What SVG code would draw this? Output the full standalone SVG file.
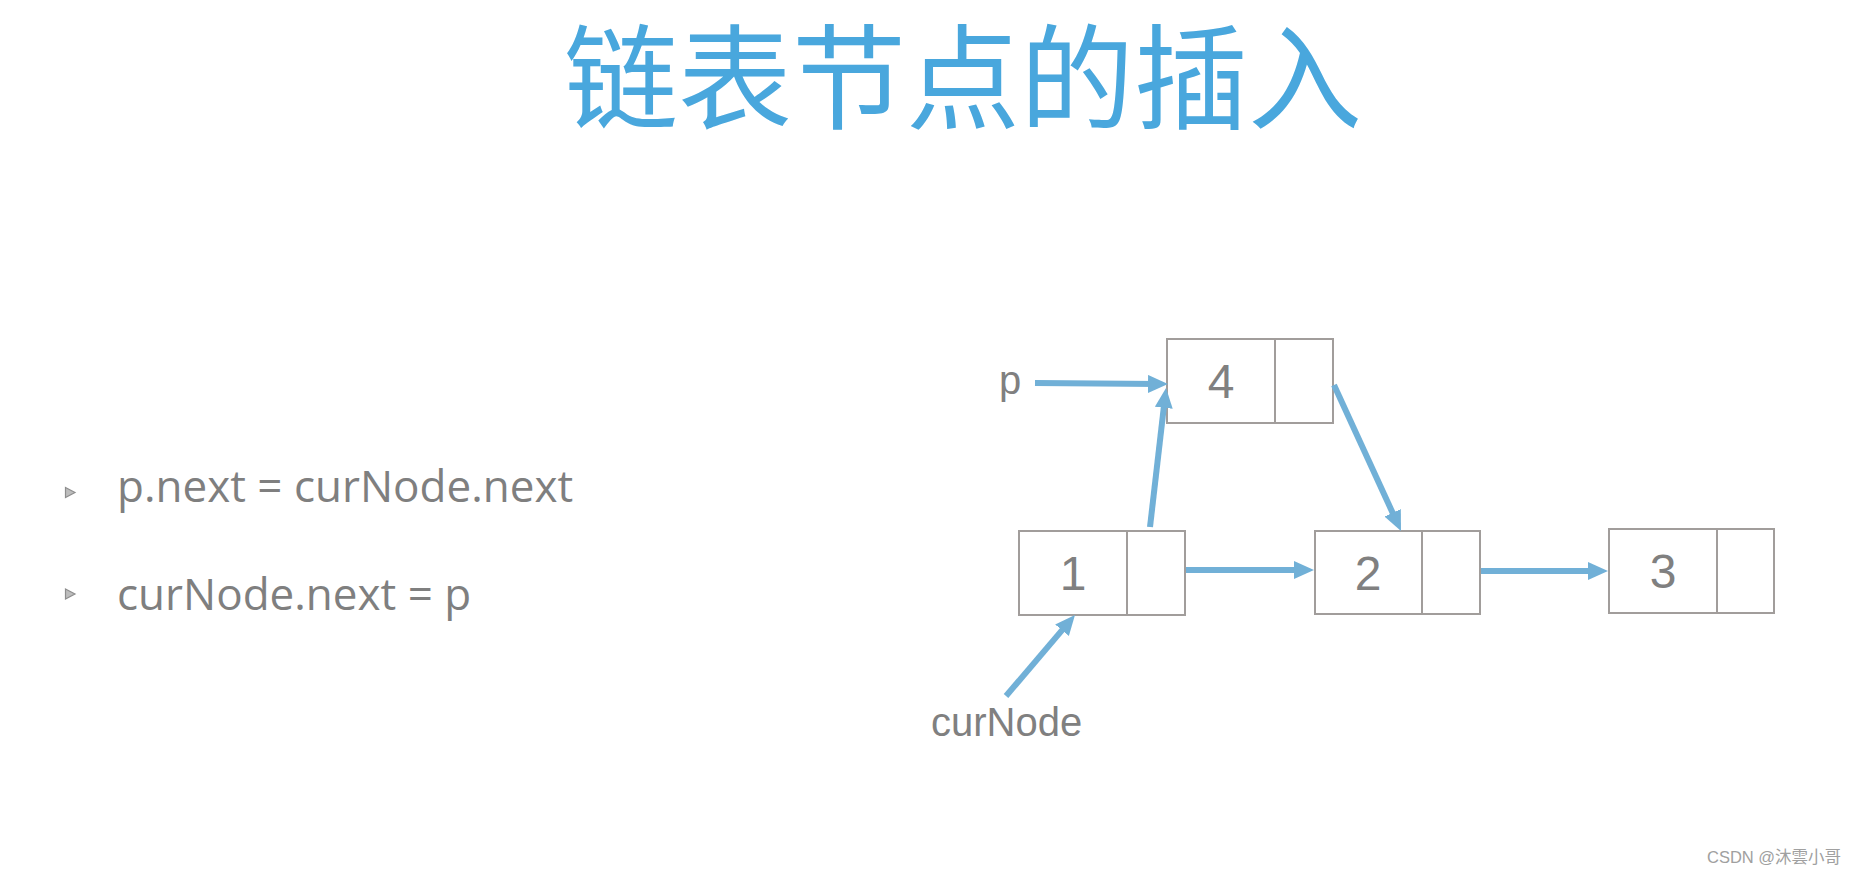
<svg xmlns="http://www.w3.org/2000/svg" width="1859" height="874" viewBox="0 0 1859 874">
<style>
.title{font-family:"Noto Sans CJK SC","Noto Sans CJK JP",sans-serif;font-size:114px;fill:#49A7DD;}
.bullet{font-family:"Open Sans","Liberation Sans",sans-serif;font-size:44px;fill:#7F7F7F;}
.lbl{font-family:"Liberation Sans",Arial,sans-serif;font-size:40px;fill:#808080;}
.num{font-family:"Liberation Sans",Arial,sans-serif;font-size:48px;fill:#808080;text-anchor:middle;}
.box{fill:#ffffff;stroke:#A19D9B;stroke-width:2;}
.conn{stroke:#71B0D7;stroke-width:6;fill:none;marker-end:url(#ah);}
.mark{font-family:"Liberation Sans","Noto Sans CJK SC",sans-serif;font-size:16.5px;fill:#A0A0A0;}
.tri{fill:#BDBDBD;stroke:#8E8E8E;stroke-width:1.2;}
</style>
<defs>
<marker id="ah" markerUnits="userSpaceOnUse" markerWidth="22" markerHeight="20" refX="10" refY="9" orient="auto">
<path d="M0,0 L20,9 L0,18 z" fill="#71B0D7"/>
</marker>
</defs>
<rect width="1859" height="874" fill="#ffffff"/>
<text class="title" x="963" y="120" text-anchor="middle">链表节点的插入</text>
<g id="bullets">
<polygon class="tri" points="65.5,487.5 75,492.5 65.5,497.5"/>
<text class="bullet" x="117" y="502">p.next = curNode.next</text>
<polygon class="tri" points="65.5,589 75,594 65.5,599"/>
<text class="bullet" x="117" y="610">curNode.next = p</text>
</g>
<g id="node1">
<rect class="box" x="1019" y="531" width="108" height="84"/>
<rect class="box" x="1127" y="531" width="58" height="84"/>
<text class="num" x="1073" y="590">1</text>
</g>
<g id="node2">
<rect class="box" x="1315" y="531" width="107" height="83"/>
<rect class="box" x="1422" y="531" width="58" height="83"/>
<text class="num" x="1368" y="590">2</text>
</g>
<g id="node3">
<rect class="box" x="1609" y="529" width="108" height="84"/>
<rect class="box" x="1717" y="529" width="57" height="84"/>
<text class="num" x="1663" y="588">3</text>
</g>
<g id="node4">
<rect class="box" x="1167" y="339" width="108" height="84"/>
<rect class="box" x="1275" y="339" width="58" height="84"/>
<text class="num" x="1221" y="398">4</text>
</g>
<g id="label-p"><text class="lbl" x="999" y="394">p</text></g>
<g id="label-curNode"><text class="lbl" x="931" y="736">curNode</text></g>
<g id="connectors">
<line class="conn" x1="1035" y1="383" x2="1158" y2="384"/>
<line class="conn" x1="1150" y1="527" x2="1164.9" y2="397.9"/>
<line class="conn" x1="1334" y1="385" x2="1396.8" y2="521.9"/>
<line class="conn" x1="1186" y1="570" x2="1304" y2="570"/>
<line class="conn" x1="1481" y1="571" x2="1598" y2="571"/>
<line class="conn" x1="1006" y1="696" x2="1068.5" y2="622.6"/>
</g>
<text class="mark" x="1707" y="863">CSDN @沐雲小哥</text>
</svg>
